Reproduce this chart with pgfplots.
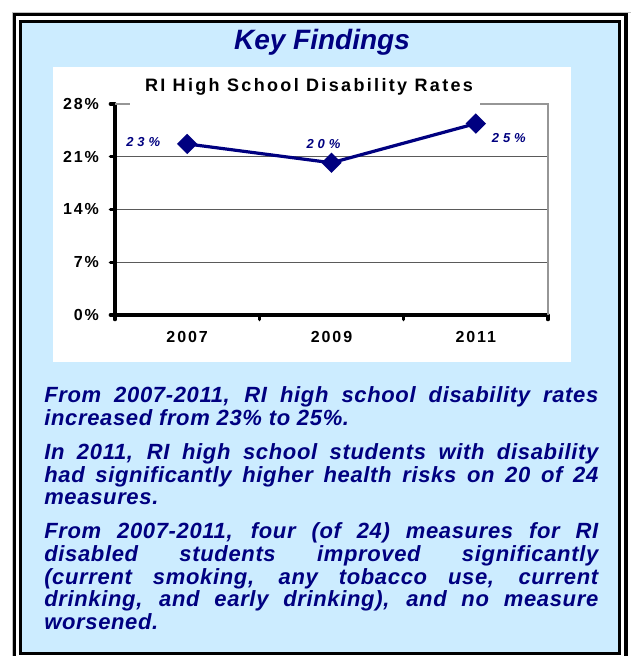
\documentclass[border=0pt]{standalone}
\usepackage{fontspec}
\setmainfont{Liberation Sans}
\usepackage{pgfplots}
\pgfplotsset{compat=1.18}
\definecolor{navy}{RGB}{0,0,128}
\definecolor{lblue}{RGB}{204,236,255}
\definecolor{gridc}{RGB}{90,90,90}
\definecolor{bordc}{RGB}{150,150,150}
\newfontfamily\titlefont{Liberation Sans}[LetterSpace=13]
\newfontfamily\labfont{Liberation Sans}[LetterSpace=30]
\newfontfamily\tickfont{Liberation Sans}[LetterSpace=12]
\newfontfamily\bodyfont{Liberation Sans}[LetterSpace=3]
\begin{document}
\begin{tikzpicture}[x=0.75pt,y=0.75pt]
\useasboundingbox (0,0) rectangle (631,656);
% frame
\draw[bordc!60,line width=0.75pt] (12.5,-10) -- (12.5,643.5) -- (640,643.5);
\draw[black,line width=2.6pt] (14.75,-10) -- (14.75,641.25) -- (626,641.25) -- (626,-10);
\fill[lblue] (20.75,{656-653.5}) rectangle (619.25,{656-21.25});
\draw[black,line width=2.6pt] (20.75,{656-653.5}) rectangle (619.25,{656-21.25});
% chart area
\fill[white] (53,{656-362}) rectangle (571,{656-67});
\begin{axis}[
  at={(86.25pt,255.75pt)}, anchor=south west,
  scale only axis, width=324.75pt, height=158.25pt,
  xmin=0.5, xmax=3.5, ymin=0, ymax=28,
  xtick={1,2,3}, xticklabels={2007,2009,2011},
  minor xtick={0.5,1.5,2.5,3.5},
  ytick={0,7,14,21,28}, yticklabels={0\%,7\%,14\%,21\%,28\%},
  axis x line*=bottom, axis y line*=left,
  axis line style={-, line width=3.2pt, black},
  tick align=outside,
  major tick length=3.5pt, minor tick length=3.5pt,
  major x tick style={draw=none},
  major y tick style={line width=2.4pt, line cap=round, black},
  minor x tick style={line width=2.4pt, line cap=round, black},
  ymajorgrids, grid style={line width=0.75pt, gridc},
  xticklabel style={font=\tickfont\bfseries\fontsize{12}{14}\selectfont, yshift=-5pt},
  yticklabel style={font=\tickfont\bfseries\fontsize{12}{14}\selectfont, xshift=-5pt},
  clip=false,
]
\draw[bordc, line width=1.1pt] (rel axis cs:0,1) -- (rel axis cs:1,1) -- (rel axis cs:1,0);
\addplot[navy, line width=2.4pt, mark=square*, mark size=4.2pt, mark options={rotate=45, solid, fill=navy}]
  coordinates {(1,22.7) (2,20.2) (3,25.4)};
\node[font=\labfont\bfseries\itshape\fontsize{9.75}{11}\selectfont, text=navy, xshift=-33pt, yshift=1.5pt] at (axis cs:1,22.7) {23\%};
\node[font=\labfont\bfseries\itshape\fontsize{9.75}{11}\selectfont, text=navy, xshift=-6pt, yshift=14pt] at (axis cs:2,20.2) {20\%};
\node[font=\labfont\bfseries\itshape\fontsize{9.75}{11}\selectfont, text=navy, xshift=24.75pt, yshift=-10.5pt] at (axis cs:3,25.4) {25\%};
\end{axis}
% title box covering top border
\fill[white] (130,{656-105.5}) rectangle (480,{656-70});
\node[anchor=base, inner sep=0, font=\titlefont\bfseries\fontsize{13.5}{16}\selectfont] at (309,{656-92}) {RI High School Disability Rates};
\node[anchor=base, inner sep=0, font=\fontsize{21}{25}\selectfont\bfseries\itshape, text=navy] at (322,{656-50}) {Key Findings};
% body text
\node[anchor=base west, inner sep=0, text width=415.5pt, align=justify, text=navy,
      font=\bodyfont\bfseries\itshape\fontsize{16.5}{16.95}\selectfont] at (44,{656-403}) {%
\setlength{\parskip}{8.6pt}\hyphenpenalty=10000\exhyphenpenalty=10000\tolerance=10000%
From 2007-2011, RI high school disability rates\linebreak increased from 23\% to 25\%.\par
In 2011, RI high school students with disability\linebreak had significantly higher health risks on 20 of 24\linebreak measures.\par
From 2007-2011, four (of 24) measures for RI\linebreak disabled students improved significantly\linebreak (current smoking, any tobacco use, current\linebreak drinking, and early drinking), and no measure\linebreak worsened.\par};
\end{tikzpicture}
\end{document}
